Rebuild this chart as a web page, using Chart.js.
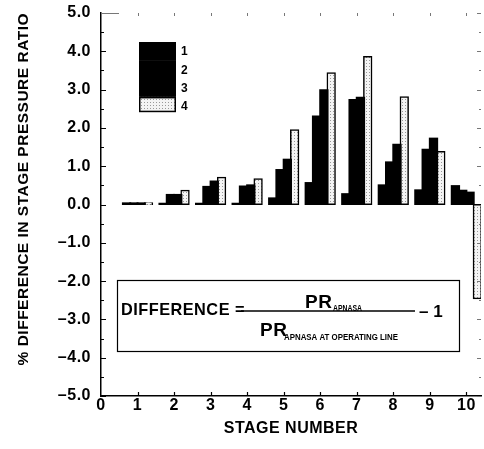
<!DOCTYPE html>
<html>
<head>
<meta charset="utf-8">
<script src="https://cdn.jsdelivr.net/npm/chart.js@4.4.1/dist/chart.umd.min.js"></script>
<style>
  html, body { margin: 0; padding: 0; background: #fff; }
</style>
</head>
<body>
<canvas id="stageChart" width="484" height="449"></canvas>
<script>
// Data
const stages = [1, 2, 3, 4, 5, 6, 7, 8, 9, 10]
const seriesNames = ['1', '2', '3', '4']
const series1 = [0.03, 0.02, 0.02, 0.02, 0.16, 0.56, 0.27, 0.50, 0.37, 0.48]
const series2 = [0.03, 0.25, 0.46, 0.47, 0.90, 2.30, 2.73, 1.10, 1.43, 0.36]
const series3 = [0.03, 0.25, 0.60, 0.50, 1.17, 2.98, 2.79, 1.56, 1.72, 0.31]
const series4 = [0.03, 0.36, 0.70, 0.66, 1.94, 3.43, 3.85, 2.80, 1.37, -2.45]
const xTickValues = [0, 1, 2, 3, 4, 5, 6, 7, 8, 9, 10]
const yTickValues = [-5, -4, -3, -2, -1, 0, 1, 2, 3, 4, 5]

const FONT = "'Liberation Sans', Arial, Helvetica, sans-serif"
const SPACING = '0.5px'

// dotted fill used for series 4
function dotPattern() {
    const c = document.createElement('canvas')
    c.width = 3
    c.height = 3
    const g = c.getContext('2d')
    g.fillStyle = '#f4f4f4'
    g.fillRect(0, 0, 3, 3)
    g.fillStyle = '#9a9a9a'
    g.fillRect(0, 0, 1, 1)
    return g.createPattern(c, 'repeat')
}
const dots = dotPattern()

const toPoints = vals => vals.map((v, i) => ({ x: stages[i], y: v }))
const seriesValues = [series1, series2, series3, series4]

const datasets = seriesValues.map((vals, i) => ({
    label: seriesNames[i],
    data: toPoints(vals),
    backgroundColor: i === 3 ? dots : '#000',
    borderColor: '#000',
    borderWidth: i === 3 ? 1.5 : 0,
    borderSkipped: false,
    inflateAmount: 1,
    categoryPercentage: 0.8,
    barPercentage: 1.0
}))

// slightly looser lettering, like the scanned original
const spacingPlugin = {
    id: 'spacing',
    beforeUpdate(chart) { chart.ctx.letterSpacing = SPACING },
    beforeDraw(chart) { chart.ctx.letterSpacing = SPACING }
}

// inward tick marks on the axes
const tickPlugin = {
    id: 'inTicks',
    afterDraw(chart) {
        const { ctx, chartArea: a, scales: { x, y } } = chart
        ctx.save()
        ctx.strokeStyle = '#000'
        ctx.lineWidth = 1.2
        ctx.beginPath()
        for (let v = -5; v <= 5; v += 0.5) {
            const py = Math.round(y.getPixelForValue(v)) + 0.5
            const len = Number.isInteger(v) ? 5 : 3
            ctx.moveTo(a.left, py)
            ctx.lineTo(a.left + len, py)
        }
        xTickValues.slice(1).forEach(v => {
            const px = Math.round(x.getPixelForValue(v)) + 0.5
            ctx.moveTo(px, a.bottom)
            ctx.lineTo(px, a.bottom - 4)
        })
        ctx.stroke()
        // faint marks on the top and right edges
        ctx.strokeStyle = '#777'
        ctx.lineWidth = 1
        ctx.beginPath()
        for (let v = -5; v <= 5; v += 0.5) {
            const py = Math.round(y.getPixelForValue(v)) + 0.5
            ctx.moveTo(a.right, py)
            ctx.lineTo(a.right - (Number.isInteger(v) ? 4 : 2), py)
        }
        xTickValues.slice(1).forEach(v => {
            const px = Math.round(x.getPixelForValue(v)) + 0.5
            ctx.moveTo(px, a.top)
            ctx.lineTo(px, a.top + 3)
        })
        ctx.moveTo(a.left, a.top + 0.5)
        ctx.lineTo(a.left + 18, a.top + 0.5)
        ctx.stroke()
        ctx.restore()
    }
}

// stacked legend box in the upper left
const legendPlugin = {
    id: 'stackLegend',
    afterDraw(chart) {
        const { ctx, chartArea: a } = chart
        const left = a.left + 38
        const top = a.top + 29
        const w = 37
        const rowH = 18.3
        ctx.save()
        ctx.letterSpacing = '0px'
        chart.data.datasets.forEach((ds, i) => {
            const ry = top + i * rowH
            const h = i === 3 ? rowH - 3 : rowH + 0.5
            ctx.fillStyle = ds.backgroundColor
            ctx.fillRect(left, ry, w, h)
            if (ds.borderWidth) {
                ctx.strokeStyle = '#000'
                ctx.lineWidth = ds.borderWidth
                ctx.strokeRect(left + 0.75, ry + 0.75, w - 1.5, h - 1.5)
            }
            ctx.fillStyle = '#000'
            ctx.font = 'bold 12px ' + FONT
            ctx.textBaseline = 'middle'
            ctx.textAlign = 'left'
            ctx.fillText(ds.label, left + w + 5, ry + rowH / 2 + 1)
        })
        ctx.restore()
    }
}

// boxed formula in the lower part of the plot
const formulaPlugin = {
    id: 'formula',
    afterDraw(chart) {
        const { ctx, chartArea: a } = chart
        const bx = a.left + 16
        const by = a.top + 267
        const bw = 342
        const bh = 71
        ctx.save()
        ctx.fillStyle = '#fff'
        ctx.fillRect(bx, by, bw, bh)
        ctx.strokeStyle = '#000'
        ctx.lineWidth = 1.2
        ctx.strokeRect(bx + 0.5, by + 0.5, bw, bh)

        ctx.fillStyle = '#000'
        ctx.textAlign = 'left'
        ctx.textBaseline = 'alphabetic'
        ctx.letterSpacing = '0.5px'
        ctx.font = 'bold 17px ' + FONT
        ctx.fillText('DIFFERENCE =', bx + 4, by + 35, 124)

        // fraction bar
        const midY = by + 31
        ctx.lineWidth = 1.3
        ctx.beginPath()
        ctx.moveTo(bx + 124, midY)
        ctx.lineTo(bx + 298, midY)
        ctx.stroke()

        ctx.font = 'bold 19px ' + FONT
        ctx.fillText('PR', bx + 188, by + 28)
        ctx.fillText('PR', bx + 143, by + 56)
        ctx.letterSpacing = '0px'
        ctx.font = 'bold 9.5px ' + FONT
        ctx.fillText('APNASA', bx + 216, by + 31, 29)
        ctx.fillText('APNASA AT OPERATING LINE', bx + 167, by + 60, 114)

        ctx.font = 'bold 17px ' + FONT
        ctx.fillText('\u2013 1', bx + 302, by + 37)
        ctx.restore()
    }
}

const chart = new Chart(document.getElementById('stageChart'), {
    type: 'bar',
    data: { datasets },
    options: {
        responsive: false,
        animation: false,
        events: [],
        layout: { padding: { top: 13, right: 3, left: 0, bottom: 0 } },
        plugins: {
            legend: { display: false },
            tooltip: { enabled: false }
        },
        scales: {
            x: {
                type: 'linear',
                min: 0,
                max: 10.4,
                offset: false,
                afterBuildTicks: s => { s.ticks = xTickValues.map(v => ({ value: v })) },
                afterFit: s => { s.height = 53 },
                grid: { display: false },
                border: { display: true, color: '#000', width: 1.5 },
                ticks: {
                    color: '#000',
                    font: { family: FONT, size: 16, weight: 'bold' },
                    padding: -8,
                    maxRotation: 0,
                    autoSkip: false
                },
                title: {
                    display: true,
                    text: 'STAGE NUMBER',
                    color: '#000',
                    font: { family: FONT, size: 16, weight: 'bold' },
                    padding: { top: 0, bottom: 11 }
                }
            },
            y: {
                min: -5,
                max: 5,
                afterBuildTicks: s => { s.ticks = yTickValues.map(v => ({ value: v })) },
                afterFit: s => { s.width = 101 },
                grid: {
                    display: true,
                    drawOnChartArea: false,
                    drawTicks: true,
                    tickLength: 7,
                    tickColor: 'rgba(0,0,0,0)'
                },
                border: { display: true, color: '#000', width: 1.5 },
                ticks: {
                    color: '#000',
                    font: { family: FONT, size: 16, weight: 'bold' },
                    padding: 3,
                    callback: v => (v < 0 ? '\u2013' : '') + Math.abs(v).toFixed(1)
                },
                title: {
                    display: true,
                    text: '% DIFFERENCE IN STAGE PRESSURE RATIO',
                    color: '#000',
                    align: 'end',
                    font: { family: FONT, size: 15.5, weight: 'bold' },
                    padding: { top: 14, bottom: 0 }
                }
            }
        }
    },
    plugins: [spacingPlugin, tickPlugin, legendPlugin, formulaPlugin]
})
</script>
</body>
</html>
